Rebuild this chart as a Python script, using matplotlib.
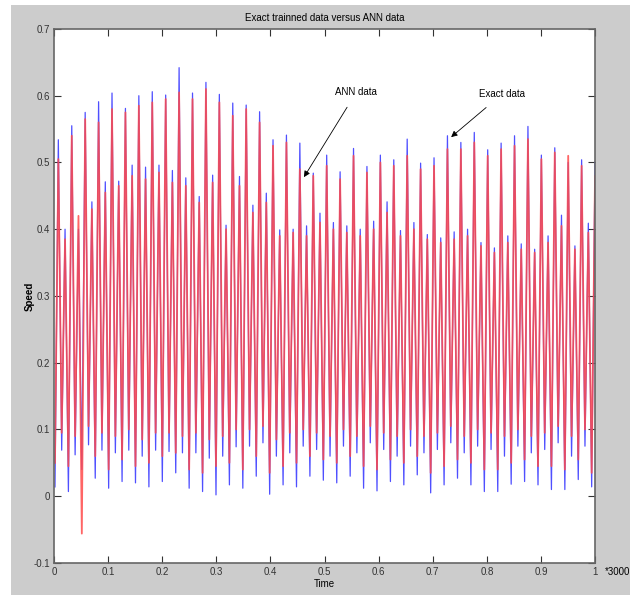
import numpy as np
import matplotlib
matplotlib.use("Agg")
import matplotlib.pyplot as plt
from matplotlib.patches import Rectangle

# values read per cycle (deep trough, main peak, shallow trough, small peak)
exact_deep = [0.014, 0.007, 0.040, 0.027, 0.012, 0.022, 0.020, 0.014, 0.022, 0.035, 0.012,
              0.007, 0.002, 0.017, 0.012, 0.030, 0.003, 0.017, 0.014, 0.030, 0.024, 0.020,
              0.030, 0.012, 0.008, 0.022, 0.017, 0.032, 0.005, 0.017, 0.027, 0.017, 0.007,
              0.007, 0.018, 0.022, 0.017, 0.010, 0.010, 0.025, 0.014]
exact_major = [0.534, 0.555, 0.575, 0.591, 0.604, 0.581, 0.600, 0.606, 0.601, 0.642, 0.604,
               0.620, 0.602, 0.589, 0.586, 0.576, 0.534, 0.541, 0.529, 0.484, 0.511, 0.486,
               0.521, 0.494, 0.511, 0.504, 0.535, 0.499, 0.507, 0.540, 0.530, 0.545, 0.519,
               0.529, 0.540, 0.554, 0.511, 0.522, 0.500, 0.504, 0.501]
exact_shallow = [0.069, 0.062, 0.077, 0.069, 0.065, 0.069, 0.060, 0.069, 0.067, 0.065, 0.065,
                 0.057, 0.060, 0.074, 0.075, 0.080, 0.060, 0.065, 0.075, 0.070, 0.060, 0.075,
                 0.065, 0.080, 0.070, 0.060, 0.075, 0.065, 0.070, 0.080, 0.065, 0.075, 0.070,
                 0.060, 0.075, 0.065, 0.070, 0.080, 0.060, 0.075, 0.065]
exact_minor = [0.400, 0.400, 0.441, 0.471, 0.472, 0.496, 0.493, 0.496, 0.488, 0.477, 0.449,
               0.481, 0.406, 0.479, 0.436, 0.454, 0.399, 0.400, 0.405, 0.424, 0.410, 0.405,
               0.400, 0.412, 0.441, 0.398, 0.410, 0.392, 0.387, 0.396, 0.400, 0.380, 0.372,
               0.390, 0.378, 0.370, 0.390, 0.421, 0.375, 0.409, 0.400]

ann_deep = [0.050, 0.045, -0.056, 0.060, 0.040, 0.055, 0.045, 0.050, 0.060, 0.065, 0.040,
            0.035, 0.045, 0.050, 0.040, 0.060, 0.035, 0.045, 0.050, 0.060, 0.055, 0.050,
            0.060, 0.045, 0.040, 0.055, 0.050, 0.060, 0.035, 0.045, 0.055, 0.050, 0.040,
            0.040, 0.050, 0.055, 0.045, 0.045, 0.040, 0.055, 0.035]
ann_major = [0.505, 0.540, 0.565, 0.560, 0.580, 0.575, 0.585, 0.590, 0.595, 0.605, 0.595,
             0.610, 0.590, 0.570, 0.580, 0.560, 0.525, 0.530, 0.490, 0.480, 0.495, 0.475,
             0.510, 0.485, 0.500, 0.495, 0.510, 0.490, 0.495, 0.520, 0.520, 0.530, 0.510,
             0.520, 0.525, 0.535, 0.505, 0.515, 0.510, 0.495, 0.480]
ann_shallow = [0.095, 0.090, 0.105, 0.095, 0.090, 0.100, 0.085, 0.095, 0.095, 0.090, 0.095,
               0.085, 0.090, 0.100, 0.100, 0.105, 0.085, 0.095, 0.100, 0.095, 0.090, 0.100,
               0.090, 0.105, 0.095, 0.090, 0.100, 0.090, 0.095, 0.105, 0.090, 0.100, 0.095,
               0.090, 0.100, 0.090, 0.095, 0.105, 0.090, 0.100, 0.090]
ann_minor = [0.385, 0.420, 0.430, 0.455, 0.465, 0.480, 0.475, 0.485, 0.470, 0.465, 0.440,
             0.470, 0.400, 0.465, 0.425, 0.440, 0.390, 0.395, 0.390, 0.410, 0.400, 0.395,
             0.390, 0.400, 0.425, 0.390, 0.400, 0.385, 0.380, 0.385, 0.390, 0.375, 0.365,
             0.380, 0.370, 0.365, 0.380, 0.405, 0.370, 0.395, 0.390]

x_ticks = [0, 0.1, 0.2, 0.3, 0.4, 0.5, 0.6, 0.7, 0.8, 0.9, 1]
x_tick_labels = ["0", "0.1", "0.2", "0.3", "0.4", "0.5", "0.6", "0.7", "0.8", "0.9", "1"]
y_ticks = [-0.1, 0, 0.1, 0.2, 0.3, 0.4, 0.5, 0.6, 0.7]
y_tick_labels = ["-0.1", "0", "0.1", "0.2", "0.3", "0.4", "0.5", "0.6", "0.7"]

exact = np.column_stack([exact_deep, exact_major, exact_shallow, exact_minor]).ravel()
ann = np.column_stack([ann_deep, ann_major, ann_shallow, ann_minor]).ravel()
# sample clock (time / 3000)
t = 0.0018 + np.arange(len(exact)) * 0.0062

plt.rcParams['font.family'] = ['Liberation Sans Narrow', 'Liberation Sans', 'DejaVu Sans']

fig = plt.figure(figsize=(6.31, 5.97), dpi=100, facecolor="white")
bg = Rectangle((0.0174, 0.0034), 0.981, 0.988, transform=fig.transFigure,
               facecolor="#cccccc", edgecolor="none", zorder=-10)
fig.add_artist(bg)

ax = fig.add_axes([0.0856, 0.0570, 0.8574, 0.8945])
ax.set_zorder(5)
ax.set_facecolor("white")
ax.plot(t, exact, color="#3030ff", lw=0.9, alpha=0.85)
ax.plot(t, ann, color="#ff4a4a", lw=1.3, alpha=0.85)

ax.set_xlim(0, 1)
ax.set_ylim(-0.1, 0.7)
ax.set_xticks(x_ticks)
ax.set_xticklabels(x_tick_labels)
ax.set_yticks(y_ticks)
ax.set_yticklabels(y_tick_labels)
ax.tick_params(direction="in", length=5, width=0.8, labelsize=7, colors="#333333",
               top=True, right=True, pad=3)
for side in ax.spines:
    ax.spines[side].set_color("#666666")
    ax.spines[side].set_linewidth(1.2)

ax.set_title("Exact trainned data versus ANN data", fontsize=7, pad=6)
ax.set_xlabel("Time", fontsize=7, labelpad=1)
ax.set_ylabel("Speed", fontsize=7, fontweight="bold", labelpad=-1)
ax.text(1.018, -0.114, "*3000", fontsize=7, transform=ax.transData, clip_on=False,
        ha="left", va="center")

ax.annotate("ANN data", xy=(0.462, 0.478), xytext=(0.52, 0.605), fontsize=7,
            ha="left", va="center",
            arrowprops=dict(arrowstyle="-|>", color="black", lw=0.6, mutation_scale=9,
                            shrinkA=6, shrinkB=0))
ax.annotate("Exact data", xy=(0.734, 0.538), xytext=(0.785, 0.602), fontsize=7,
            ha="left", va="center",
            arrowprops=dict(arrowstyle="-|>", color="black", lw=0.6, mutation_scale=9,
                            shrinkA=6, shrinkB=0))

plt.savefig("out.png", dpi=100)
plt.close()
